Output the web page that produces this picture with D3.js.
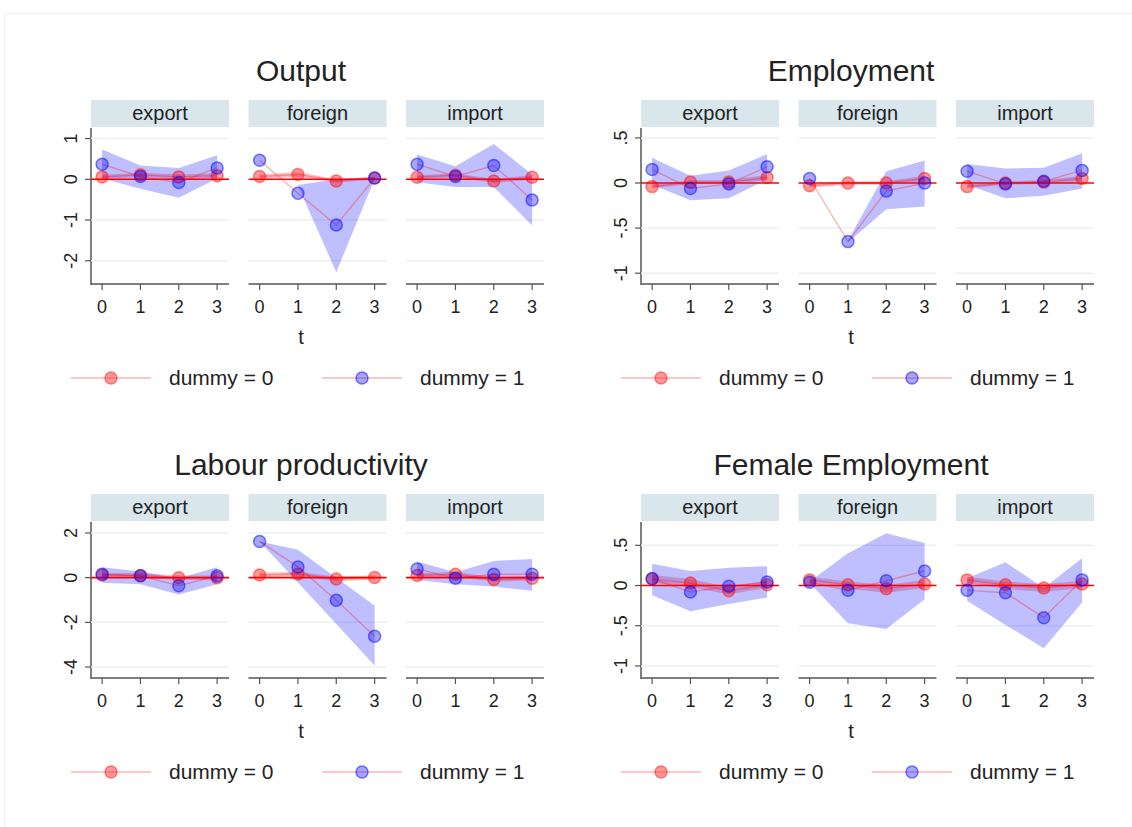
<!DOCTYPE html>
<html>
<head>
<meta charset="utf-8">
<script src="https://cdn.jsdelivr.net/npm/d3@7"></script>
<style>
  body { margin: 0; background: #fff; }
  text { font-family: "Liberation Sans", Arial, sans-serif; fill: #222; }
</style>
</head>
<body>
<script>
// facets and periods
var facets = ["export", "foreign", "import"];
var periods = [0, 1, 2, 3];

// each array: one row per facet (export, foreign, import), one value per t
// dummy = 0 estimates and bands
var outEst0 = [[0.06, 0.11, 0.06, 0.09], [0.07, 0.12, -0.04, 0.03], [0.05, 0.10, -0.04, 0.05]];
var outLo0  = [[0.01, 0.06, 0.00, 0.03], [0.02, 0.06, -0.08, -0.01], [0.00, 0.05, -0.09, 0.00]];
var outHi0  = [[0.11, 0.16, 0.12, 0.15], [0.12, 0.18, 0.00, 0.07], [0.10, 0.15, 0.01, 0.10]];
// dummy = 1
var outEst1 = [[0.37, 0.07, -0.08, 0.28], [0.47, -0.34, -1.12, 0.03], [0.37, 0.07, 0.34, -0.51]];
var outLo1  = [[0.02, -0.23, -0.45, 0.02], [null, -0.16, -2.28, 0.01], [-0.07, -0.19, -0.19, -1.13]];
var outHi1  = [[0.73, 0.34, 0.28, 0.59], [null, -0.14, 0.00, 0.06], [0.61, 0.32, 0.87, 0.12]];

var empEst0 = [[-0.04, 0.01, 0.01, 0.06], [-0.03, 0.00, 0.00, 0.05], [-0.04, 0.00, 0.01, 0.05]];
var empLo0  = [[-0.06, -0.01, -0.01, 0.03], [-0.05, -0.02, -0.02, 0.02], [-0.06, -0.02, -0.01, 0.02]];
var empHi0  = [[-0.02, 0.03, 0.03, 0.09], [-0.01, 0.02, 0.02, 0.08], [-0.02, 0.02, 0.03, 0.08]];
var empEst1 = [[0.15, -0.06, -0.01, 0.18], [0.05, -0.65, -0.09, 0.00], [0.13, -0.01, 0.02, 0.14]];
var empLo1  = [[-0.02, -0.19, -0.17, 0.04], [null, -0.66, -0.29, -0.26], [-0.02, -0.17, -0.14, -0.06]];
var empHi1  = [[0.28, 0.08, 0.14, 0.32], [null, -0.64, 0.13, 0.25], [0.21, 0.16, 0.17, 0.33]];

var labEst0 = [[0.12, 0.10, 0.00, 0.00], [0.12, 0.16, -0.06, 0.01], [0.10, 0.15, -0.08, -0.03]];
var labLo0  = [[0.02, 0.00, -0.10, -0.10], [0.02, 0.06, -0.16, -0.09], [0.00, 0.05, -0.18, -0.13]];
var labHi0  = [[0.22, 0.20, 0.10, 0.10], [0.22, 0.26, 0.04, 0.11], [0.20, 0.25, 0.02, 0.07]];
var labEst1 = [[0.15, 0.08, -0.36, 0.08], [1.62, 0.48, -1.01, -2.62], [0.39, -0.03, 0.15, 0.15]];
var labLo1  = [[-0.23, -0.30, -0.75, -0.30], [1.62, -0.22, -2.07, -3.93], [-0.10, -0.30, -0.40, -0.59]];
var labHi1  = [[0.47, 0.27, -0.03, 0.47], [1.62, 1.25, -0.01, -1.25], [0.72, 0.24, 0.75, 0.84]];

var femEst0 = [[0.08, 0.03, -0.065, 0.01], [0.07, 0.01, -0.04, 0.02], [0.07, 0.01, -0.03, 0.02]];
var femLo0  = [[0.03, -0.02, -0.11, -0.03], [0.03, -0.04, -0.09, -0.03], [0.03, -0.04, -0.08, -0.03]];
var femHi0  = [[0.13, 0.08, -0.02, 0.06], [0.11, 0.05, 0.01, 0.07], [0.11, 0.05, 0.02, 0.06]];
var femEst1 = [[0.086, -0.08, -0.01, 0.045], [0.04, -0.06, 0.06, 0.18], [-0.06, -0.09, -0.40, 0.07]];
var femLo1  = [[-0.12, -0.32, -0.23, -0.15], [0.03, -0.47, -0.54, -0.17], [-0.19, -0.49, -0.78, -0.21]];
var femHi1  = [[0.27, 0.18, 0.22, 0.24], [0.05, 0.40, 0.65, 0.53], [0.09, 0.29, -0.03, 0.34]];

// y tick values and labels per panel
var outTicks = [1, 0, -1, -2];
var outTickLabels = ["1", "0", "-1", "-2"];
var empTicks = [0.5, 0, -0.5, -1];
var empTickLabels = [".5", "0", "-.5", "-1"];
var labTicks = [2, 0, -2, -4];
var labTickLabels = ["2", "0", "-2", "-4"];
var femTicks = [0.5, 0, -0.5, -1];
var femTickLabels = [".5", "0", "-.5", "-1"];

var legendLabels = ["dummy = 0", "dummy = 1"];

var w = 1132, h = 827;
var facetW = 138, facetStep = 157.5;

var svg = d3.select("body").append("svg").attr("width", w).attr("height", h);
svg.append("rect").attr("x", 4.5).attr("y", 13.5).attr("width", w - 4).attr("height", h - 13)
    .attr("fill", "#fff").attr("stroke", "#f0f0f0");

var panels = [
    {title: "Output", left: 91, top: 100, domain: [-2.57, 1.26], ticks: outTicks, tickLabels: outTickLabels,
     est0: outEst0, lo0: outLo0, hi0: outHi0, est1: outEst1, lo1: outLo1, hi1: outHi1},
    {title: "Employment", left: 641, top: 100, domain: [-1.12, 0.61], ticks: empTicks, tickLabels: empTickLabels,
     est0: empEst0, lo0: empLo0, hi0: empHi0, est1: empEst1, lo1: empLo1, hi1: empHi1},
    {title: "Labour productivity", left: 91, top: 494, domain: [-4.49, 2.49], ticks: labTicks, tickLabels: labTickLabels,
     est0: labEst0, lo0: labLo0, hi0: labHi0, est1: labEst1, lo1: labLo1, hi1: labHi1},
    {title: "Female Employment", left: 641, top: 494, domain: [-1.15, 0.79], ticks: femTicks, tickLabels: femTickLabels,
     est0: femEst0, lo0: femLo0, hi0: femHi0, est1: femEst1, lo1: femLo1, hi1: femHi1}
];

var red = "rgb(255,0,0)";

function drawPanel(p) {
    var g = svg.append("g");
    var plotTop = p.top + 28, plotBottom = p.top + 184;
    var y = d3.scaleLinear().domain(p.domain).range([plotBottom, plotTop]);

    g.append("text").attr("x", p.left + 210).attr("y", p.top - 19)
        .attr("text-anchor", "middle").attr("font-size", 30).text(p.title);

    // y axis (first facet only)
    g.append("line").attr("x1", p.left).attr("x2", p.left)
        .attr("y1", plotTop).attr("y2", plotBottom + 1)
        .attr("stroke", "#555").attr("stroke-width", 1.5);
    p.ticks.forEach(function (t, i) {
        g.append("line").attr("x1", p.left - 6).attr("x2", p.left)
            .attr("y1", y(t)).attr("y2", y(t)).attr("stroke", "#555").attr("stroke-width", 1.2);
        g.append("text").attr("transform", "translate(" + (p.left - 14) + "," + y(t) + ") rotate(-90)")
            .attr("text-anchor", "middle").attr("font-size", 18).text(p.tickLabels[i]);
    });

    facets.forEach(function (f, fi) {
        var fx = p.left + fi * facetStep;
        var x = d3.scaleLinear().domain([-0.29, 3.31]).range([fx, fx + facetW]);
        var fg = g.append("g");

        // strip
        fg.append("rect").attr("x", fx).attr("y", p.top).attr("width", facetW).attr("height", 27)
            .attr("fill", "#d9e6ec");
        fg.append("text").attr("x", fx + facetW / 2).attr("y", p.top + 20)
            .attr("text-anchor", "middle").attr("font-size", 20).text(f);

        // grid
        p.ticks.forEach(function (t) {
            if (t === 0) return;
            fg.append("line").attr("x1", fx).attr("x2", fx + facetW)
                .attr("y1", y(t)).attr("y2", y(t)).attr("stroke", "#eaf1f3").attr("stroke-width", 1.5);
        });

        // x axis
        fg.append("line").attr("x1", fx).attr("x2", fx + facetW)
            .attr("y1", plotBottom).attr("y2", plotBottom).attr("stroke", "#555").attr("stroke-width", 1.5);
        periods.forEach(function (t) {
            fg.append("line").attr("x1", x(t)).attr("x2", x(t))
                .attr("y1", plotBottom).attr("y2", plotBottom + 6).attr("stroke", "#555").attr("stroke-width", 1.2);
            fg.append("text").attr("x", x(t)).attr("y", plotBottom + 29)
                .attr("text-anchor", "middle").attr("font-size", 18).text(t);
        });

        var area = d3.area()
            .defined(function (d) { return d.lo != null; })
            .x(function (d) { return x(d.t); })
            .y0(function (d) { return y(d.lo); })
            .y1(function (d) { return y(d.hi); });
        var line = d3.line().x(function (d) { return x(d.t); }).y(function (d) { return y(d.v); });

        var s0 = periods.map(function (t, i) { return {t: t, v: p.est0[fi][i], lo: p.lo0[fi][i], hi: p.hi0[fi][i]}; });
        var s1 = periods.map(function (t, i) { return {t: t, v: p.est1[fi][i], lo: p.lo1[fi][i], hi: p.hi1[fi][i]}; });

        fg.append("path").datum(s0).attr("d", area).attr("fill", "rgba(255,0,0,0.25)");
        fg.append("path").datum(s1).attr("d", area).attr("fill", "rgba(0,0,255,0.25)");

        fg.append("line").attr("x1", fx).attr("x2", fx + facetW)
            .attr("y1", y(0)).attr("y2", y(0)).attr("stroke", red).attr("stroke-width", 1.6);

        [s0, s1].forEach(function (s) {
            fg.append("path").datum(s).attr("d", line).attr("fill", "none")
                .attr("stroke", "rgba(255,0,0,0.3)").attr("stroke-width", 1.4);
        });

        fg.selectAll(".m0").data(s0).enter().append("circle")
            .attr("cx", function (d) { return x(d.t); }).attr("cy", function (d) { return y(d.v); })
            .attr("r", 6).attr("fill", "rgba(255,0,0,0.4)").attr("stroke", "rgba(255,0,0,0.45)").attr("stroke-width", 1.5);
        fg.selectAll(".m1").data(s1).enter().append("circle")
            .attr("cx", function (d) { return x(d.t); }).attr("cy", function (d) { return y(d.v); })
            .attr("r", 6).attr("fill", "rgba(0,0,255,0.35)").attr("stroke", "rgba(0,0,255,0.5)").attr("stroke-width", 1.5);
    });

    // x title
    g.append("text").attr("x", p.left + 210).attr("y", plotBottom + 60)
        .attr("text-anchor", "middle").attr("font-size", 20).text("t");

    // legend
    var ly = plotBottom + 94;
    legendLabels.forEach(function (lab, i) {
        var lx = p.left - 20 + i * 251;
        g.append("line").attr("x1", lx).attr("x2", lx + 80).attr("y1", ly).attr("y2", ly)
            .attr("stroke", "rgba(255,0,0,0.3)").attr("stroke-width", 1.6);
        g.append("circle").attr("cx", lx + 40).attr("cy", ly).attr("r", 6)
            .attr("fill", i === 0 ? "rgba(255,0,0,0.4)" : "rgba(0,0,255,0.35)")
            .attr("stroke", i === 0 ? "rgba(255,0,0,0.45)" : "rgba(0,0,255,0.5)").attr("stroke-width", 1.5);
        g.append("text").attr("x", lx + 98).attr("y", ly + 7).attr("font-size", 21).text(lab);
    });
}

panels.forEach(drawPanel);
</script>
</body>
</html>
